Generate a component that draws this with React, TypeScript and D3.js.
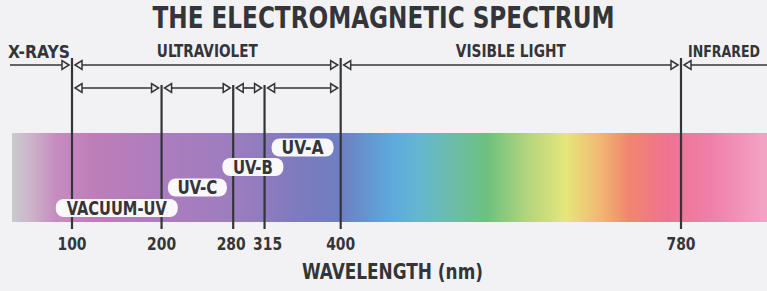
import React from 'react';
import * as d3 from 'd3';

// wavelengths (nm) where the spectrum is divided
const boundaries = [100, 200, 280, 315, 400, 780];
const majorBoundaries = [100, 400, 780];
const uvBoundaries = [200, 280, 315];

// top row of ranges
const regions = [
  { name: 'X-RAYS', from: null, to: 100 },
  { name: 'ULTRAVIOLET', from: 100, to: 400 },
  { name: 'VISIBLE LIGHT', from: 400, to: 780 },
  { name: 'INFRARED', from: 780, to: null },
];

// ultraviolet sub-bands
const uvBands = [
  { name: 'VACUUM-UV', from: 100, to: 200 },
  { name: 'UV-C', from: 200, to: 280 },
  { name: 'UV-B', from: 280, to: 315 },
  { name: 'UV-A', from: 315, to: 400 },
];

// colour of the band at a given wavelength
const spectrumStops = [
  { nm: 33, color: '#cacacf' },
  { nm: 52, color: '#cdb6cb' },
  { nm: 82, color: '#c68cc1' },
  { nm: 125, color: '#bf7db9' },
  { nm: 200, color: '#ac7dbe' },
  { nm: 280, color: '#9d7dbf' },
  { nm: 350, color: '#7e7abe' },
  { nm: 402, color: '#6d80c1' },
  { nm: 455, color: '#5da9dc' },
  { nm: 485, color: '#64b6d2' },
  { nm: 520, color: '#6cbcae' },
  { nm: 563, color: '#6cc17e' },
  { nm: 610, color: '#b6d57e' },
  { nm: 652, color: '#e6e67a' },
  { nm: 690, color: '#f0b773' },
  { nm: 722, color: '#f18570' },
  { nm: 765, color: '#f07292' },
  { nm: 815, color: '#ef80aa' },
  { nm: 872, color: '#f2a3c4' },
];

const W = 767;
const H = 291;
const BG = '#f2f2f4';
const INK = '#333538';
const FONT = "'Liberation Sans Narrow', 'DejaVu Sans Condensed', 'Roboto', sans-serif";

export default function App() {
  const x = d3.scaleLinear().domain([100, 780]).range([72, 681]);

  const barX0 = 12;
  const barX1 = W;
  const barY0 = 133;
  const barY1 = 222;
  const row1 = 65;
  const row2 = 88;
  const lineBottom = 229;

  const head = (tipX: number, y: number, dir: number) => {
    // dir = 1 points right, -1 points left
    const baseX = tipX - dir * 7;
    return `M${tipX},${y}L${baseX},${y - 4.5}L${baseX},${y + 4.5}Z`;
  };

  const gap = 3;
  const arrow = (from: number | null, to: number | null, y: number, key: string) => {
    const x0 = from == null ? 10 : x(from) + gap;
    const x1 = to == null ? W : x(to) - gap;
    return (
      <g key={key}>
        <line
          x1={from == null ? x0 : x0 + 7}
          x2={to == null ? x1 : x1 - 7}
          y1={y}
          y2={y}
          stroke={INK}
          strokeWidth={1.6}
        />
        {from != null && (
          <path d={head(x0, y, -1)} fill={BG} stroke={INK} strokeWidth={1.5} />
        )}
        {to != null && (
          <path d={head(x1, y, 1)} fill={BG} stroke={INK} strokeWidth={1.5} />
        )}
      </g>
    );
  };

  const [lo, hi] = [x.invert(barX0), x.invert(barX1)];
  const pillY = [208, 187.5, 167, 147.5];
  const pillW = [122, 59, 61, 62];
  const pillTextW = [100, 40, 40, 42];
  const tickNudge: Record<number, number> = { 280: -2, 315: 3 };

  return (
    <svg
      width={W}
      height={H}
      style={{ position: 'absolute', left: 0, top: 0, background: BG }}
      fontFamily={FONT}
      fontWeight="bold"
    >
      <defs>
        <linearGradient id="spectrum" x1="0%" x2="100%" y1="0%" y2="0%">
          {spectrumStops.map((s) => (
            <stop
              key={s.nm}
              offset={`${((s.nm - lo) / (hi - lo)) * 100}%`}
              stopColor={s.color}
            />
          ))}
        </linearGradient>
      </defs>
      <rect width={W} height={H} fill={BG} />

      <text
        x={W / 2}
        y={28}
        textAnchor="middle"
        fontSize={30}
        fill={INK}
        textLength={462}
        lengthAdjust="spacingAndGlyphs"
      >
        THE ELECTROMAGNETIC SPECTRUM
      </text>

      {/* region names */}
      <text x={8} y={58} fontSize={17} fill={INK} textLength={62} lengthAdjust="spacingAndGlyphs">
        X-RAYS
      </text>
      <text x={(x(100) + x(400)) / 2 + 1} y={57} textAnchor="middle" fontSize={17} fill={INK} textLength={101} lengthAdjust="spacingAndGlyphs">
        ULTRAVIOLET
      </text>
      <text x={(x(400) + x(780)) / 2} y={57} textAnchor="middle" fontSize={17} fill={INK} textLength={110} lengthAdjust="spacingAndGlyphs">
        VISIBLE LIGHT
      </text>
      <text x={x(780) + 7} y={57} fontSize={15} fill={INK} textLength={72} lengthAdjust="spacingAndGlyphs">
        INFRARED
      </text>

      <rect x={barX0} y={barY0} width={barX1 - barX0} height={barY1 - barY0} fill="url(#spectrum)" />

      {regions.map((r) => arrow(r.from, r.to, row1, 'r' + r.name))}
      {uvBands.map((b) => arrow(b.from, b.to, row2, 'b' + b.name))}

      {majorBoundaries.map((v) => (
        <line key={'m' + v} x1={x(v)} x2={x(v)} y1={58} y2={lineBottom} stroke={INK} strokeWidth={2.2} />
      ))}
      {uvBoundaries.map((v) => (
        <line key={'u' + v} x1={x(v)} x2={x(v)} y1={row2 - 3} y2={lineBottom} stroke={INK} strokeWidth={2.2} />
      ))}

      {uvBands.map((b, i) => {
        const cx = x((b.from + b.to) / 2) + (i === 2 ? 4 : 0);
        const w = pillW[i];
        return (
          <g key={'p' + b.name}>
            <rect x={cx - w / 2} y={pillY[i] - 9} width={w} height={18} rx={8} fill="#ffffff" fillOpacity={0.95} />
            <text
              x={cx}
              y={pillY[i] + 6.5}
              textAnchor="middle"
              fontSize={19}
              fill={INK}
              textLength={pillTextW[i]}
              lengthAdjust="spacingAndGlyphs"
            >
              {b.name}
            </text>
          </g>
        );
      })}

      {boundaries.map((v) => (
        <text
          key={'t' + v}
          x={x(v) + (tickNudge[v] || 0)}
          y={250}
          textAnchor="middle"
          fontSize={18}
          fill={INK}
          textLength={29}
          lengthAdjust="spacingAndGlyphs"
        >
          {v}
        </text>
      ))}

      <text x={W / 2 + 9} y={279} textAnchor="middle" fontSize={22} fill={INK} textLength={181} lengthAdjust="spacingAndGlyphs">
        WAVELENGTH (nm)
      </text>
    </svg>
  );
}
